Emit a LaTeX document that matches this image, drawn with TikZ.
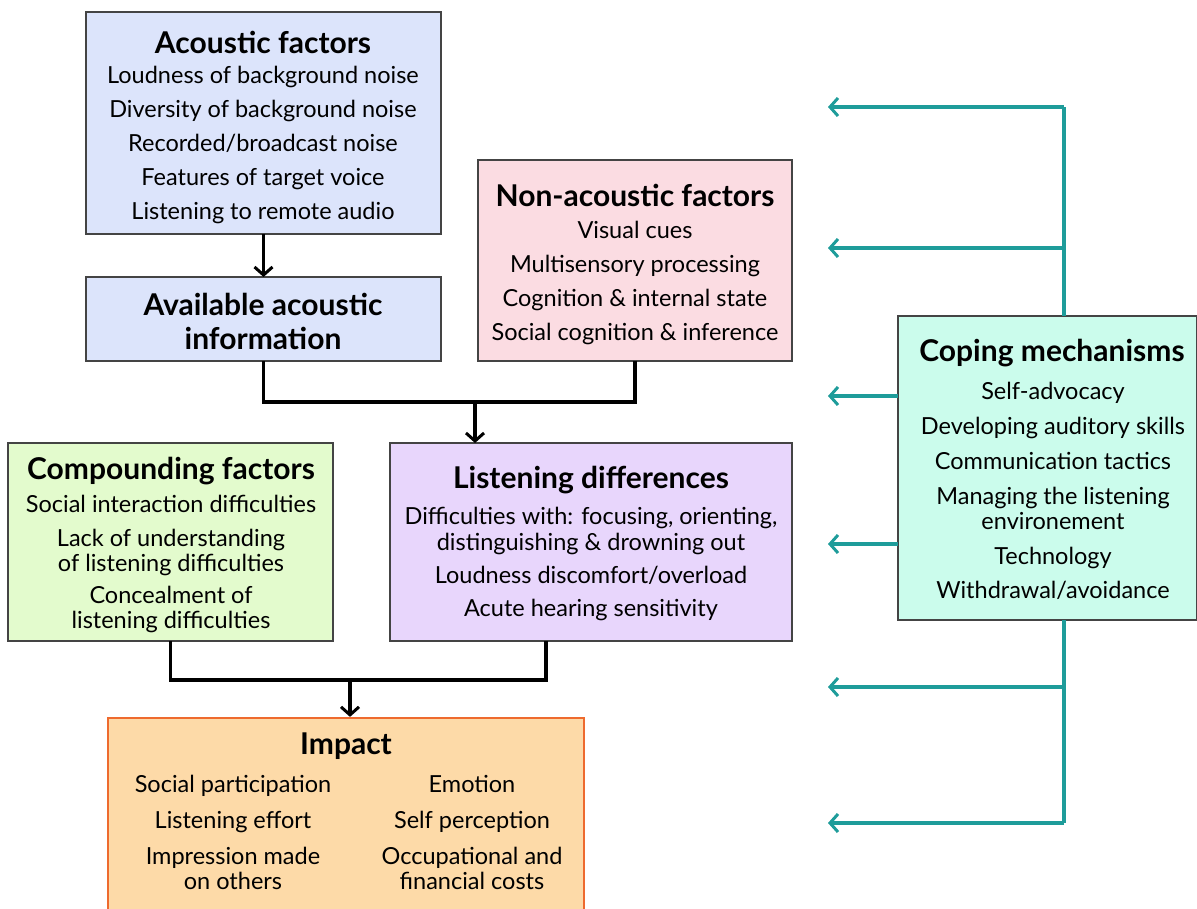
\documentclass[tikz,border=0pt]{standalone}
\usepackage{fontspec}
\setmainfont{Lato}
\usetikzlibrary{arrows.meta}
\definecolor{acblue}{HTML}{DCE4FB}
\definecolor{napink}{HTML}{FBDCE2}
\definecolor{ldlav}{HTML}{E8D6FC}
\definecolor{cfgreen}{HTML}{E3FBCD}
\definecolor{cmmint}{HTML}{CBFCEC}
\definecolor{imorange}{HTML}{FDDAA8}
\definecolor{imborder}{HTML}{EE6A2E}
\definecolor{tealc}{HTML}{1E9C9A}
\definecolor{boxborder}{HTML}{444444}
\tikzset{
  box/.style={draw=boxborder, line width=1.4pt, inner sep=0pt, outer sep=0pt},
  ttl/.style={font=\fontsize{30}{34}\selectfont\bfseries, inner sep=0pt, align=center},
  bdy/.style={font=\fontsize{23.5}{34}\selectfont, inner sep=0pt, align=center},
  bdyt/.style={font=\fontsize{23.5}{24.5}\selectfont, inner sep=0pt, align=center},
  flow/.style={draw=black, line width=3.2pt},
  flowarr/.style={flow, -{Straight Barb[length=8pt,width=18pt,line width=3pt]}},
  tealarr/.style={draw=tealc, line width=3.2pt, -{Straight Barb[length=8pt,width=18pt,line width=3pt]}},
  tealln/.style={draw=tealc, line width=3.2pt},
}
\begin{document}
\begin{tikzpicture}[x=1pt,y=-1pt]
\useasboundingbox (0,0) rectangle (1197,909);
\clip (0,0) rectangle (1197,909);
% boxes
\node[box, fill=acblue, minimum width=355pt, minimum height=222pt] (ac) at (263.5,123) {};
\node[box, fill=acblue, minimum width=355pt, minimum height=84pt] (av) at (263.5,319) {};
\node[box, fill=napink, minimum width=314pt, minimum height=201pt] (na) at (635,260.5) {};
\node[box, fill=cfgreen, minimum width=325pt, minimum height=198pt] (cf) at (170.5,542) {};
\node[box, fill=ldlav, minimum width=402pt, minimum height=198pt] (ld) at (591,542) {};
\node[draw=imborder, line width=2.2pt, fill=imorange, inner sep=0pt, minimum width=476pt, minimum height=200pt] (im) at (346,818) {};
\node[box, fill=cmmint, minimum width=299pt, minimum height=304pt] (cm) at (1047.5,468) {};
% texts
\node[ttl] (act) at (263,42) {Acoustic factors};
\node[bdy] (acb) at (263,145) {Loudness of background noise\\Diversity of background noise\\Recorded/broadcast noise\\Features of target voice\\Listening to remote audio};
\node[ttl] (avt) at (263,321) {Available acoustic\\information};
\node[ttl] (nat) at (635,195) {Non-acoustic factors};
\node[bdy] (nab) at (635,283) {Visual cues\\Multisensory processing\\Cognition \& internal state\\Social cognition \& inference};
\node[ttl] (cft) at (171,471) {Compounding factors};
\node[bdyt] (cfb) at (171,564) {Social interaction difficulties\\[9.5pt]Lack of understanding\\of listening difficulties\\[8pt]Concealment of\\listening difficulties};
\node[ttl] (ldt) at (591,480) {Listening differences};
\node[bdyt, font=\fontsize{23.5}{26}\selectfont] (ldb) at (591,564) {Difficulties with: focusing, orienting,\\distinguishing \& drowning out\\[7pt]Loudness discomfort/overload\\[7pt]Acute hearing sensitivity};
\node[ttl] (imt) at (346,746) {Impact};
\node[bdyt, font=\fontsize{23.5}{25}\selectfont] (imb1) at (233,832.5) {Social participation\\[11pt]Listening effort\\[11pt]Impression made\\on others};
\node[bdyt, font=\fontsize{23.5}{25}\selectfont] (imb2) at (472,832.5) {Emotion\\[11pt]Self perception\\[11pt]Occupational and\\financial costs};
\node[ttl] (cmt) at (1052,353) {Coping mechanisms};
\node[bdyt, font=\fontsize{23.5}{25}\selectfont] (cmb) at (1053,490.5) {Self-advocacy\\[10pt]Developing auditory skills\\[10pt]Communication tactics\\[10pt]Managing the listening\\environement\\[10pt]Technology\\[9pt]Withdrawal/avoidance};
% black connectors
\draw[flowarr] (ac.south) -- (av.north);
\coordinate (j1) at (475,402);
\coordinate (j2) at (350,680);
\draw[flow] (av.south) |- (j1);
\draw[flow] (na.south) |- (j1);
\draw[flowarr] (j1) -- (j1 |- ld.north);
\draw[flow] (cf.south) |- (j2);
\draw[flow] (ld.south -| 546,0) |- (j2);
\draw[flowarr] (j2) -- (j2 |- im.north);
% teal connectors
\coordinate (tu) at (1064,107);
\coordinate (tm) at (1064,248);
\coordinate (td1) at (1064,687);
\coordinate (td2) at (1064,823);
\coordinate (e1) at (828,107);
\coordinate (e2) at (828,248);
\coordinate (e3) at (828,396);
\coordinate (e4) at (828,544);
\coordinate (e5) at (828,687);
\coordinate (e6) at (828,823);
\draw[tealln] (cm.north -| tu) -- (tu);
\draw[tealln] (cm.south -| td2) -- (td2);
\draw[tealarr] (tu) -- (e1);
\draw[tealarr] (tm) -- (e2);
\draw[tealarr] (cm.west |- e3) -- (e3);
\draw[tealarr] (cm.west |- e4) -- (e4);
\draw[tealarr] (td1) -- (e5);
\draw[tealarr] (td2) -- (e6);
\end{tikzpicture}
\end{document}
